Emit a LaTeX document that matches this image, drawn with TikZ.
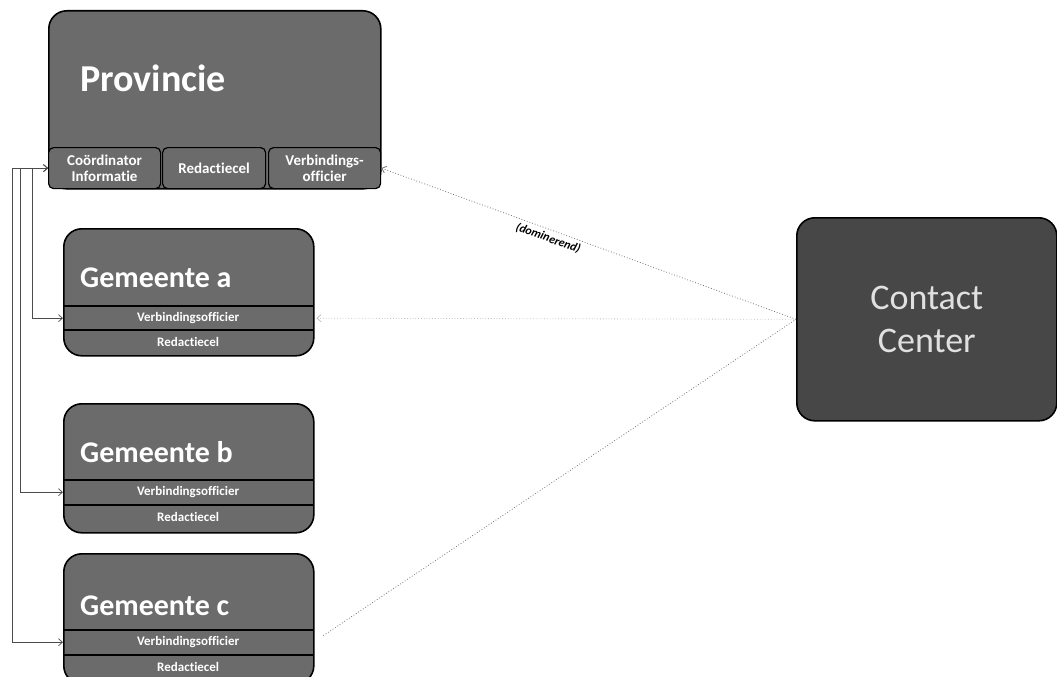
\documentclass[tikz,border=0pt]{standalone}
\usepackage{fontspec}
\setmainfont{Carlito}[Ligatures={NoCommon}]
\usetikzlibrary{arrows.meta}
\begin{document}
\begin{tikzpicture}[x=1pt,y=-1pt,
 box/.style={draw=black, line width=1.6pt, fill=black!58, rounded corners=18pt, inner sep=0pt, anchor=north west},
 subbox/.style={draw=black, line width=1.2pt, fill=black!58, rounded corners=5pt, inner sep=0pt, anchor=north west, minimum height=41pt, text=white, font=\bfseries\fontsize{15}{16}\selectfont, align=center},
 row/.style={inner sep=0pt, anchor=north west, minimum width=250pt, minimum height=24pt, text=white, font=\bfseries\fontsize{13}{15}\selectfont},
 rowline/.style={draw=black, line width=1.1pt},
 title/.style={anchor=base west, inner sep=0pt, text=white, font=\bfseries\fontsize{30}{36}\selectfont},
 link/.style={draw=black!70, line width=0.7pt, {Straight Barb[length=4pt,width=7pt]}-{Straight Barb[length=4pt,width=7pt]}},
 dots/.style={draw=black!55, line width=0.8pt, dotted},
]
\useasboundingbox (0,0) rectangle (1057,677);
\clip (0,0) rectangle (1057,677);

% Provincie
\node[box, minimum width=332pt, minimum height=178pt] (prov) at (48,10) {};
\node[title, font=\bfseries\fontsize{38}{44}\selectfont] (provt) at (80,91) {Provincie};
\node[subbox, minimum width=112pt] (coord) at (48,147) {Coördinator\\Informatie};
\node[subbox, minimum width=103pt] (red) at (162,147) {Redactiecel};
\node[subbox, minimum width=112pt] (verb) at (268,147) {Verbindings-\\officier};

% Gemeente a
\node[box, minimum width=250pt, minimum height=127pt] (ga) at (63,228) {};
\node[title] (gat) at (80,287) {Gemeente a};
\node[row] (gav) at (63,306) {Verbindingsofficier};
\node[row] (gar) at (63,330) {Redactiecel};
\draw[rowline] (gav.north west) -- (gav.north east);
\draw[rowline] (gar.north west) -- (gar.north east);

% Gemeente b
\node[box, minimum width=250pt, minimum height=129pt] (gb) at (63,403) {};
\node[title] (gbt) at (80,462) {Gemeente b};
\node[row] (gbv) at (63,480) {Verbindingsofficier};
\node[row] (gbr) at (63,505) {Redactiecel};
\draw[rowline] (gbv.north west) -- (gbv.north east);
\draw[rowline] (gbr.north west) -- (gbr.north east);

% Gemeente c
\node[box, minimum width=250pt, minimum height=130pt] (gc) at (63,553) {};
\node[title] (gct) at (80,615) {Gemeente c};
\node[row] (gcv) at (63,630) {Verbindingsofficier};
\node[row] (gcr) at (63,655) {Redactiecel};
\draw[rowline] (gcv.north west) -- (gcv.north east);
\draw[rowline] (gcr.north west) -- (gcr.north east);

% Contact Center
\node[box, fill=black!72, minimum width=260pt, minimum height=203pt, text=black!12, font=\fontsize{36}{43}\selectfont, align=center] (cc) at (796,217) {Contact\\Center};

% left links
\draw[link] (gcv.west) -- ++(-51,0) |- (coord.west);
\draw[link] (gbv.west) -- ++(-43,0) |- (coord.west);
\draw[link] (gav.west) -- ++(-31,0) |- (coord.west);

% dotted links
\draw[dots, {Straight Barb[length=4pt,width=7pt]}-] (verb.east) -- node[sloped, below=3pt, pos=0.41, inner sep=0pt, font=\bfseries\itshape\fontsize{12}{14}\selectfont, text=black] (dom) {(dominerend)} (cc.west);
\draw[dots, draw=black!25, {Straight Barb[length=4pt,width=7pt]}-, shorten <=3pt] (gav.east) -- (cc.west);
\draw[dots, shorten <=12pt] (gcv.east) -- (cc.west);
\end{tikzpicture}
\end{document}
